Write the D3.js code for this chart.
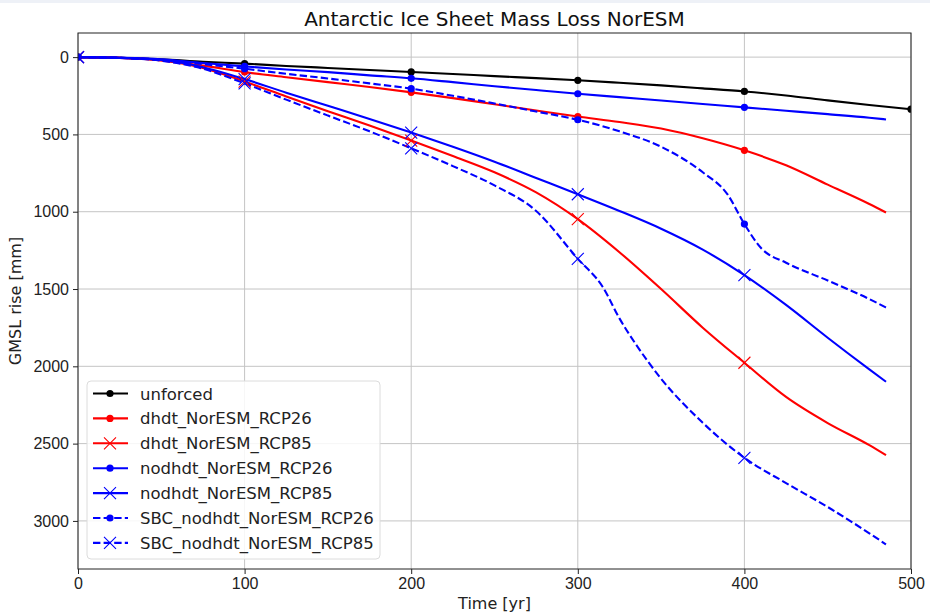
<!DOCTYPE html>
<html lang="en">
<head>
    <meta charset="UTF-8">
    <title>Antarctic Ice Sheet Mass Loss NorESM</title>
    <script src="https://d3js.org/d3.v7.min.js"></script>
    <style>
        body { margin: 0; background: #fff; }
        svg { display: block; font-family: "DejaVu Sans", sans-serif; }
        .grid line { stroke: #c4c4c4; stroke-width: 1; }
        .axis text { font-size: 16px; fill: #222; }
        .axis path, .axis line { stroke: #222; }
    </style>
</head>
<body>
    <svg id="chart"></svg>

    <script>
        // values (years, mm)
        var unforced = [[0,0],[25,4],[50,14],[75,30],[100,42],[125,57],[150,70],[175,83],[200,96],[225,109],[250,123],[275,136],[300,150],[325,166],[350,183],[375,202],[400,222],[425,248],[450,280],[475,310],[500,337]];
        var dhdtRCP26 = [[0,0],[25,5],[50,20],[75,55],[100,97],[125,130],[150,162],[175,193],[200,228],[225,265],[250,305],[275,345],[300,384],[325,420],[350,462],[375,525],[400,603],[425,700],[450,825],[475,950],[485,1005]];
        var dhdtRCP85 = [[0,0],[25,5],[50,22],[75,70],[100,158],[125,255],[150,350],[175,443],[200,540],[225,640],[250,745],[275,875],[300,1048],[325,1262],[350,1500],[375,1750],[400,1977],[425,2198],[450,2367],[475,2510],[485,2575]];
        var nodhdtRCP26 = [[0,0],[25,4],[50,14],[75,38],[100,60],[125,80],[150,97],[175,118],[200,137],[225,162],[250,188],[275,213],[300,237],[325,259],[350,281],[375,303],[400,325],[425,347],[450,369],[475,392],[485,403]];
        var nodhdtRCP85 = [[0,0],[25,5],[50,19],[75,65],[100,142],[125,230],[150,315],[175,400],[200,488],[225,580],[250,677],[275,782],[300,887],[325,995],[350,1110],[375,1245],[400,1410],[425,1603],[450,1815],[475,2020],[485,2100]];
        var sbcRCP26 = [[0,0],[25,4],[50,16],[75,45],[100,75],[125,108],[150,138],[175,170],[200,204],[225,250],[250,300],[275,352],[300,405],[325,480],[350,580],[375,745],[390,890],[400,1080],[410,1235],[425,1330],[450,1445],[475,1565],[485,1620]];
        var sbcRCP85 = [[0,0],[25,5],[50,23],[75,75],[100,170],[125,275],[150,378],[175,480],[200,590],[225,705],[250,830],[275,995],[300,1305],[315,1487],[325,1690],[335,1860],[350,2080],[375,2365],[400,2592],[425,2755],[450,2910],[475,3080],[485,3152]];

        var seriesNames = ["unforced", "dhdt_NorESM_RCP26", "dhdt_NorESM_RCP85", "nodhdt_NorESM_RCP26", "nodhdt_NorESM_RCP85", "SBC_nodhdt_NorESM_RCP26", "SBC_nodhdt_NorESM_RCP85"];
        var seriesData = [unforced, dhdtRCP26, dhdtRCP85, nodhdtRCP26, nodhdtRCP85, sbcRCP26, sbcRCP85];
        var seriesColors = ["#000000", "#ff0000", "#ff0000", "#0000ff", "#0000ff", "#0000ff", "#0000ff"];
        var seriesMarker = ["dot", "dot", "x", "dot", "x", "dot", "x"];
        var seriesDashed = [false, false, false, false, false, true, true];

        var xTicks = [0, 100, 200, 300, 400, 500];
        var yTicks = [0, 500, 1000, 1500, 2000, 2500, 3000];

        var width = 930, height = 615;
        var margin = {top: 33, right: 19, bottom: 46, left: 78};
        var w = width - margin.left - margin.right;
        var h = height - margin.top - margin.bottom;

        var svg = d3.select("#chart")
            .attr("width", width)
            .attr("height", height);

        // faint strip at the very top of the picture
        svg.append("rect").attr("x", 0).attr("y", 0).attr("width", width).attr("height", 3).attr("fill", "#eef1f7");

        var x = d3.scaleLinear().domain([0, 500]).range([0, w]);
        var y = d3.scaleLinear().domain([-156, 3311]).range([0, h]);

        var g = svg.append("g").attr("transform", "translate(" + margin.left + "," + margin.top + ")");

        g.append("clipPath").attr("id", "plot-clip")
            .append("rect").attr("width", w).attr("height", h);

        // grid
        var grid = g.append("g").attr("class", "grid");
        grid.selectAll(".vx").data(xTicks).enter().append("line")
            .attr("x1", d => x(d)).attr("x2", d => x(d))
            .attr("y1", 0).attr("y2", h);
        grid.selectAll(".hy").data(yTicks).enter().append("line")
            .attr("x1", 0).attr("x2", w)
            .attr("y1", d => y(d)).attr("y2", d => y(d));

        var line = d3.line()
            .x(d => x(d[0]))
            .y(d => y(d[1]))
            .curve(d3.curveMonotoneX);

        var plot = g.append("g").attr("clip-path", "url(#plot-clip)");

        function drawMarker(sel, kind, color, cx, cy) {
            if (kind === "dot") {
                sel.append("circle").attr("cx", cx).attr("cy", cy).attr("r", 3.6).attr("fill", color);
            } else {
                var s = 6;
                sel.append("path")
                    .attr("d", "M" + (cx - s) + "," + (cy - s) + "L" + (cx + s) + "," + (cy + s) +
                               "M" + (cx - s) + "," + (cy + s) + "L" + (cx + s) + "," + (cy - s))
                    .attr("stroke", color).attr("stroke-width", 1.1).attr("fill", "none");
            }
        }

        seriesData.forEach(function(data, i) {
            plot.append("path")
                .datum(data)
                .attr("fill", "none")
                .attr("stroke", seriesColors[i])
                .attr("stroke-width", 2.1)
                .attr("stroke-dasharray", seriesDashed[i] ? "7.4,3.2" : null)
                .attr("d", line);
        });
        seriesData.forEach(function(data, i) {
            data.filter(d => d[0] % 100 === 0).forEach(function(d) {
                drawMarker(plot, seriesMarker[i], seriesColors[i], x(d[0]), y(d[1]));
            });
        });

        // axes
        var xAxis = g.append("g").attr("class", "axis")
            .attr("transform", "translate(0," + h + ")")
            .call(d3.axisBottom(x).tickValues(xTicks).tickFormat(d3.format("d")).tickSize(5).tickPadding(4));
        var yAxis = g.append("g").attr("class", "axis")
            .call(d3.axisLeft(y).tickValues(yTicks).tickFormat(d3.format("d")).tickSize(5).tickPadding(4));
        xAxis.select(".domain").remove();
        yAxis.select(".domain").remove();

        g.append("rect").attr("width", w).attr("height", h)
            .attr("fill", "none").attr("stroke", "#222").attr("stroke-width", 1);

        // labels
        svg.append("text").attr("x", margin.left + w / 2).attr("y", 26)
            .attr("text-anchor", "middle").style("font-size", "20px").attr("fill", "#111")
            .text("Antarctic Ice Sheet Mass Loss NorESM");
        svg.append("text").attr("x", margin.left + w / 2).attr("y", 609)
            .attr("text-anchor", "middle").style("font-size", "16px").attr("fill", "#222")
            .text("Time [yr]");
        svg.append("text")
            .attr("transform", "translate(21," + (margin.top + h / 2) + ") rotate(-90)")
            .attr("text-anchor", "middle").style("font-size", "16px").attr("fill", "#222")
            .text("GMSL rise [mm]");

        // legend
        var legend = svg.append("g").attr("transform", "translate(87,381)");
        legend.append("rect").attr("width", 293).attr("height", 178)
            .attr("rx", 4).attr("fill", "#fff").attr("fill-opacity", 0.85)
            .attr("stroke", "#dcdcdc");
        seriesNames.forEach(function(name, i) {
            var ly = 12.5 + i * 24.9;
            legend.append("line")
                .attr("x1", 6).attr("x2", 41).attr("y1", ly).attr("y2", ly)
                .attr("stroke", seriesColors[i]).attr("stroke-width", 2.1)
                .attr("stroke-dasharray", seriesDashed[i] ? "7.4,3.2" : null);
            drawMarker(legend, seriesMarker[i], seriesColors[i], 23, ly);
            legend.append("text").attr("x", 53).attr("y", ly + 6)
                .style("font-size", "16.5px").attr("fill", "#222").text(name);
        });
    </script>
</body>
</html>
